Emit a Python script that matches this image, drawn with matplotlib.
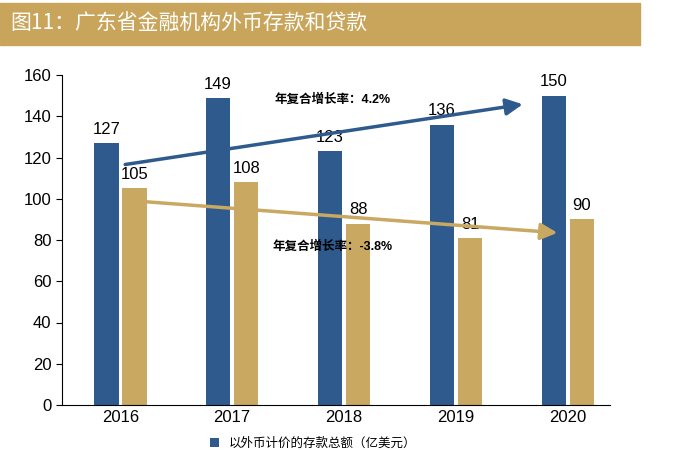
import matplotlib
matplotlib.use("Agg")
import matplotlib.pyplot as plt
import numpy as np
from matplotlib.patches import Rectangle

plt.rcParams["font.family"] = ["Liberation Sans", "Noto Sans CJK SC"]

years = ["2016", "2017", "2018", "2019", "2020"]
deposits = [127, 149, 123, 136, 150]
loans = [105, 108, 88, 81, 90]
yticks = [0, 20, 40, 60, 80, 100, 120, 140, 160]
title = "图11：广东省金融机构外币存款和贷款"
legend_label = "以外币计价的存款总额（亿美元）"
cagr_dep = "年复合增长率：4.2%"
cagr_loan = "年复合增长率：-3.8%"

blue = "#2E5A8E"
gold = "#C9A862"

fig = plt.figure(figsize=(6.9, 4.5), dpi=100)
fig.patches.append(Rectangle((0, 1 - 45/450), 640/690, 42/450, transform=fig.transFigure,
                             color="#C8A55A", zorder=0))
fig.text(10/690, 1 - 24/450, title, color="white", fontsize=15, va="center",
         fontfamily="Noto Sans CJK SC")

ax = fig.add_axes([62/690, 45/450, 548/690, 330/450])
x = np.arange(len(years))
w = 0.22
b1 = ax.bar(x - 0.125, deposits, w, color=blue, label=legend_label)
b2 = ax.bar(x + 0.125, loans, w, color=gold)
for xi, v in zip(x, deposits):
    ax.text(xi - 0.125, v + 3, str(v), ha="center", va="bottom", fontsize=12)
for xi, v in zip(x, loans):
    ax.text(xi + 0.125, v + 3, str(v), ha="center", va="bottom", fontsize=12)

ax.set_xlim(-0.52, 4.375)
ax.set_ylim(0, 160)
ax.set_yticks(yticks)
ax.set_xticks(x)
ax.set_xticklabels(years)
ax.tick_params(labelsize=12, length=0)
ax.tick_params(axis="y", length=4, direction="out")
for s in ["top", "right"]:
    ax.spines[s].set_visible(False)

ax.annotate("", xy=(3.62, 146), xytext=(0.02, 116.4),
            arrowprops=dict(arrowstyle="-|>,head_width=0.5,head_length=1", color=blue, lw=2.5))
ax.annotate("", xy=(3.93, 83.4), xytext=(0.02, 99.4),
            arrowprops=dict(arrowstyle="-|>,head_width=0.5,head_length=1", color=gold, lw=2.5))
ax.text(1.38, 148, cagr_dep, fontsize=9, fontweight="bold", va="center",
        fontfamily=["Liberation Sans", "Noto Sans CJK SC"])
ax.text(1.36, 77, cagr_loan, fontsize=9, fontweight="bold", va="center")

fig.legend(handles=[b1], labels=[legend_label], loc="center left",
           bbox_to_anchor=(210/690, 6/450), frameon=False, fontsize=9,
           handlelength=0.7, handleheight=0.7, borderpad=0, borderaxespad=0)

fig.savefig("out.png", dpi=100)
